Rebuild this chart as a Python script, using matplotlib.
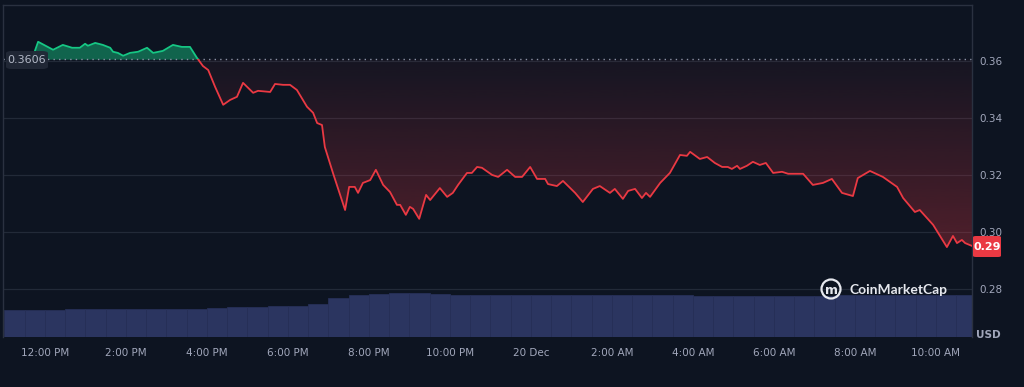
import numpy as np
import matplotlib.pyplot as plt
from matplotlib.path import Path
from matplotlib.patches import Rectangle, Ellipse, FancyBboxPatch

# ------------------------------------------------------------------------------------------
# data: hours after 12:00 PM (19 Dec) and price in USD
hours = [-0.32, -0.17, 0.20, 0.44, 0.67, 0.86, 0.99, 1.06, 1.24, 1.43, 1.61, 1.68, 1.80, 1.93,
         2.10, 2.30, 2.52, 2.67, 2.91, 3.16, 3.38, 3.58, 3.75, 3.90, 4.03, 4.20, 4.40, 4.57,
         4.74, 4.89, 5.14, 5.26, 5.56, 5.68, 5.88, 6.05, 6.22, 6.47, 6.62, 6.72, 6.84, 6.91,
         7.11, 7.41, 7.51, 7.65, 7.73, 7.85, 8.03, 8.17, 8.35, 8.52, 8.69, 8.77, 8.91, 9.01,
         9.09, 9.24, 9.41, 9.51, 9.75, 9.93, 10.07, 10.20, 10.42, 10.54, 10.67, 10.79, 11.04,
         11.19, 11.41, 11.61, 11.78, 11.98, 12.15, 12.35, 12.42, 12.64, 12.79, 13.09, 13.28,
         13.53, 13.70, 13.95, 14.07, 14.27, 14.40, 14.57, 14.74, 14.84, 14.94, 15.19, 15.43,
         15.68, 15.85, 15.93, 16.17, 16.35, 16.54, 16.72, 16.86, 16.96, 17.09, 17.16, 17.33,
         17.48, 17.65, 17.80, 17.98, 18.20, 18.35, 18.72, 18.96, 19.21, 19.43, 19.68, 19.95,
         20.07, 20.37, 20.69, 21.04, 21.19, 21.48, 21.60, 21.93, 22.27, 22.42, 22.52, 22.64,
         22.72, 22.84, 22.89]
price = [0.3606, 0.3667, 0.3639, 0.3656, 0.3646, 0.3646, 0.3660, 0.3653, 0.3663, 0.3656, 0.3646,
         0.3632, 0.3628, 0.3618, 0.3628, 0.3632, 0.3646, 0.3628, 0.3635, 0.3656, 0.3649, 0.3649,
         0.3611, 0.3582, 0.3568, 0.3509, 0.3446, 0.3463, 0.3474, 0.3523, 0.3488, 0.3495, 0.3491,
         0.3519, 0.3516, 0.3516, 0.3498, 0.3439, 0.3418, 0.3382, 0.3375, 0.3298, 0.3207, 0.3077,
         0.3158, 0.3158, 0.3137, 0.3172, 0.3182, 0.3218, 0.3165, 0.3140, 0.3095, 0.3095, 0.3060,
         0.3088, 0.3081, 0.3046, 0.3130, 0.3112, 0.3154, 0.3123, 0.3137, 0.3165, 0.3207, 0.3207,
         0.3228, 0.3225, 0.3200, 0.3193, 0.3218, 0.3193, 0.3193, 0.3228, 0.3186, 0.3186, 0.3168,
         0.3161, 0.3179, 0.3137, 0.3105, 0.3151, 0.3161, 0.3137, 0.3151, 0.3116, 0.3144, 0.3151,
         0.3119, 0.3137, 0.3123, 0.3172, 0.3207, 0.3270, 0.3267, 0.3281, 0.3256, 0.3263, 0.3242,
         0.3228, 0.3228, 0.3221, 0.3232, 0.3221, 0.3232, 0.3246, 0.3235, 0.3242, 0.3207, 0.3211,
         0.3204, 0.3204, 0.3165, 0.3172, 0.3186, 0.3137, 0.3126, 0.3189, 0.3214, 0.3193, 0.3158,
         0.3119, 0.3070, 0.3077, 0.3025, 0.2947, 0.2986, 0.2961, 0.2972, 0.2961, 0.2954, 0.2951]

open_price = 0.3606
last_price_label = "0.29"

# half-hour volume bins (M USD), centres from -0.75 h
vol_hours = [-0.75 + 0.5 * i for i in range(48)]
volume = [27, 27, 27.5, 28, 28, 28, 28, 28.5, 28.5, 28.5, 29, 30, 30, 31, 31, 33,
          39, 42.5, 43.5, 44, 44, 43, 42.5, 42, 42, 42.5, 42.5, 42.5, 42.5, 42.5, 42, 42,
          42, 42, 41.5, 41, 41, 41, 41, 41, 41.5, 42, 42, 42, 42, 42, 42, 42]

tick_hours = [0, 2, 4, 6, 8, 10, 12, 14, 16, 18, 20, 22]
tick_labels = ["12:00 PM", "2:00 PM", "4:00 PM", "6:00 PM", "8:00 PM", "10:00 PM", "20 Dec",
               "2:00 AM", "4:00 AM", "6:00 AM", "8:00 AM", "10:00 AM"]
price_ticks = [0.28, 0.30, 0.32, 0.34, 0.36]

# ------------------------------------------------------------------------------------------
bg = "#0d1421"
grid_c = "#222a38"
txt_c = "#a1a7bb"
green = "#16c784"
red = "#ea3943"

W, H = 1024, 387
fig = plt.figure(figsize=(W / 100, H / 100), dpi=100, facecolor=bg)

x_lo, x_hi = -1.037, 22.89
y_lo, y_hi = 0.26316, 0.3796
ax_l, ax_b, ax_w, ax_h = 3 / W, 50 / H, 969 / W, 332 / H

# volume axes underneath
axv = fig.add_axes([ax_l, ax_b, ax_w, 50 / H])
axv.set_facecolor(bg)
axv.bar(vol_hours, volume, width=0.5, color="#2b3560", edgecolor="#262f57", linewidth=0.6)
axv.set_xlim(x_lo, x_hi)
axv.set_ylim(0, 50)
axv.axis("off")

ax = fig.add_axes([ax_l, ax_b, ax_w, ax_h])
ax.patch.set_alpha(0)
t = np.array(hours)
p = np.array(price)

for yv in price_ticks:
    ax.axhline(yv, color=grid_c, lw=0.9, zorder=0)

# green fill above the open price
ax.fill_between(t, p, open_price, where=p >= open_price, interpolate=True,
                color=green, alpha=0.45, lw=0, zorder=1)

# red gradient below the open price, stronger towards the low
red_poly = ax.fill_between(t, p, open_price, where=p <= open_price, interpolate=True,
                           color="none", lw=0)
p_min = p.min()
n = 256
grad = np.zeros((n, 1, 4))
grad[:, 0, :3] = np.array([234, 57, 67]) / 255.0
grad[:, 0, 3] = np.linspace(0.04, 0.30, n)
im = ax.imshow(grad, extent=[x_lo, x_hi, p_min, open_price], origin="upper",
               aspect="auto", interpolation="bicubic", zorder=1)
im.set_clip_path(Path.make_compound_path(*red_poly.get_paths()), ax.transData)

# price line, green above / red below the open price
ln_g, = ax.plot(t, p, color=green, lw=1.3, zorder=3, solid_joinstyle="round")
ln_r, = ax.plot(t, p, color=red, lw=1.3, zorder=3, solid_joinstyle="round")
ln_g.set_clip_path(Rectangle((x_lo, open_price), x_hi - x_lo, 1, transform=ax.transData))
ln_r.set_clip_path(Rectangle((x_lo, 0), x_hi - x_lo, open_price, transform=ax.transData))

ax.axhline(open_price, color="#8a93a6", lw=1.0, ls=(0, (1, 3)), zorder=2)

ax.set_xlim(x_lo, x_hi)
ax.set_ylim(y_lo, y_hi)

ax.set_xticks(tick_hours)
ax.set_xticklabels(tick_labels)
ax.set_yticks(price_ticks)
ax.set_yticklabels(["{:.2f}".format(v) for v in price_ticks])
ax.yaxis.tick_right()
ax.tick_params(axis="x", length=0, pad=8, labelsize=7.5, labelcolor=txt_c)
ax.tick_params(axis="y", length=0, pad=5, labelsize=7.5, labelcolor=txt_c)

for side in ["left", "top", "right"]:
    ax.spines[side].set_color("#2a3140")
    ax.spines[side].set_linewidth(1.0)
ax.spines["bottom"].set_visible(False)

# open price tag on the left
fig.patches.append(FancyBboxPatch((6 / W, (H - 69) / H), 42 / W, 18 / H,
                                  boxstyle="round,pad=0,rounding_size=0.006",
                                  transform=fig.transFigure, facecolor="#222937",
                                  edgecolor="none", alpha=0.95, zorder=5))
fig.text(27 / W, (H - 60) / H, "{:.4f}".format(open_price), color="#b4bac8",
         fontsize=8, ha="center", va="center", zorder=6)

# last price tag on the right
fig.patches.append(FancyBboxPatch((973 / W, (H - 257) / H), 28 / W, 21 / H,
                                  boxstyle="round,pad=0,rounding_size=0.003",
                                  transform=fig.transFigure, facecolor=red,
                                  edgecolor="none", zorder=5))
fig.text(987 / W, (H - 246.5) / H, last_price_label, color="white", fontsize=8,
         fontweight="bold", ha="center", va="center", zorder=6)

fig.text(988 / W, (H - 335) / H, "USD", color=txt_c, fontsize=7.5, fontweight="bold",
         ha="center", va="center")

# CoinMarketCap watermark
fig.patches.append(Ellipse((831 / W, (H - 289) / H), 19 / W, 19 / H,
                           transform=fig.transFigure, fill=False, edgecolor="#e6e8ee",
                           lw=1.6, zorder=5))
fig.text(831 / W, (H - 290) / H, "m", color="#e6e8ee", fontsize=9, fontweight="bold",
         ha="center", va="center", zorder=6)
fig.text(850 / W, (H - 290) / H, "CoinMarketCap", color="#e6e8ee", fontsize=10,
         fontweight="bold", family="Lato", ha="left", va="center", zorder=6)

plt.savefig("out.png", dpi=100, facecolor=bg)
